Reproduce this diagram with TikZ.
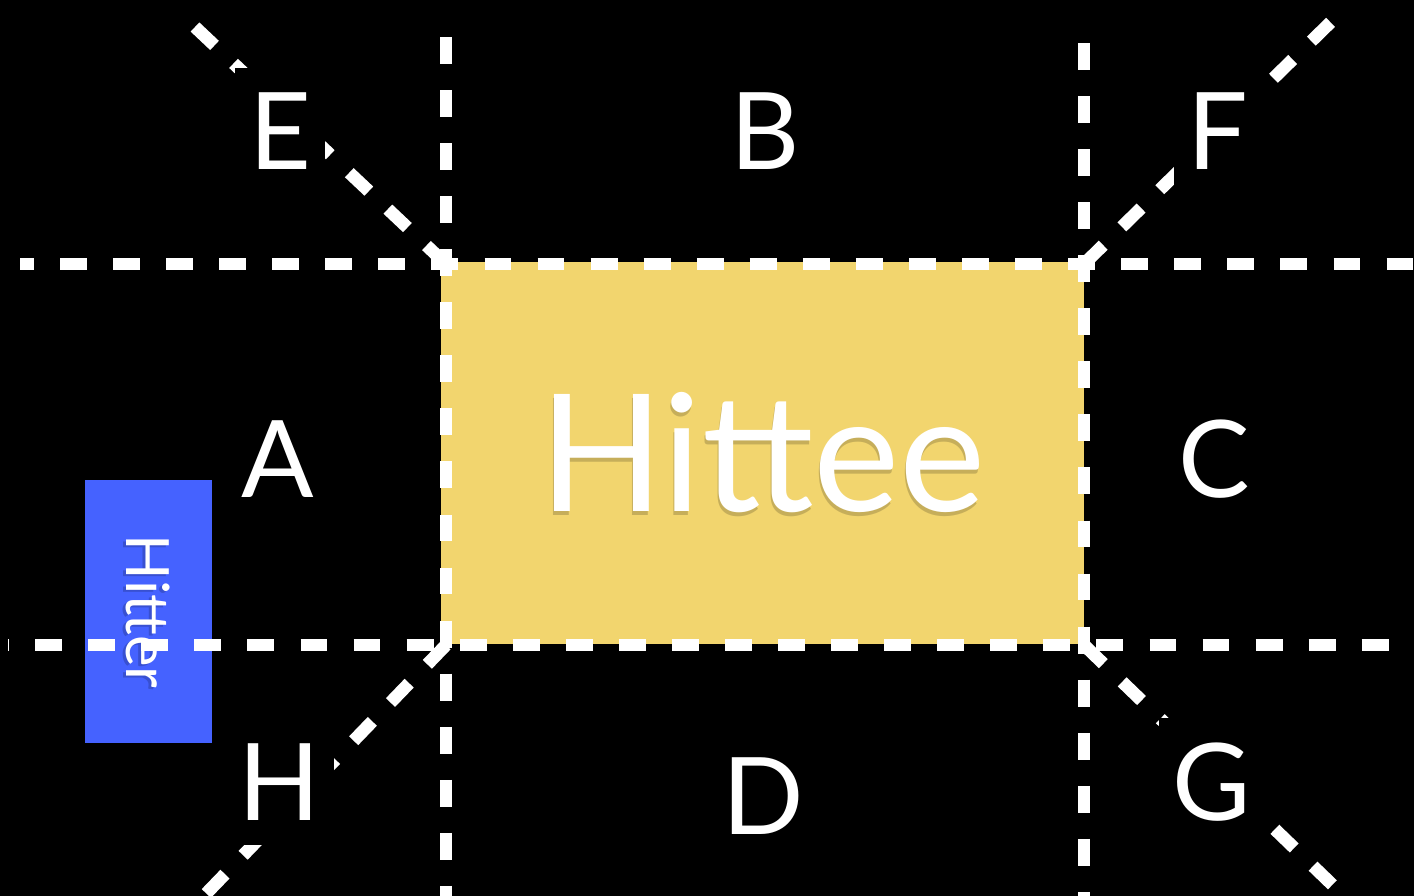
\documentclass[tikz,border=0pt]{standalone}
\usepackage{fontspec}
\setmainfont{Lato}
\definecolor{hitteeyellow}{RGB}{242,213,110}
\definecolor{hitterblue}{RGB}{69,98,255}

\begin{document}
\begin{tikzpicture}[x=0.02cm, y=-0.02cm,
    guide/.style={white, line width=7.2pt, dash pattern=on 15.3pt off 14.9pt},
    region/.style={fill=black, text=white, inner xsep=8pt, inner ysep=14pt,
      font=\fontsize{61}{61}\selectfont},
    shade/.style={text=black, opacity=0.18}]
  \fill[black] (0,0) rectangle (1414,896);
  \useasboundingbox (0,0) rectangle (1414,896);
  % boxes
  \node[fill=hitteeyellow, inner sep=0pt, minimum width=12.86cm, minimum height=7.64cm] (hittee) at (762.5,453) {};
  \node[fill=hitterblue, inner sep=0pt, minimum width=2.54cm, minimum height=5.26cm] (hitter) at (148.5,611.5) {};
  \node[shade, rotate=-90, font=\fontsize{34}{34}\selectfont] at ([shift={(-3,2)}]hitter.center) {Hitter};
  \node[text=white, rotate=-90, font=\fontsize{34}{34}\selectfont] (hitterlabel) at (hitter.center) {Hitter};
  % corners and line ends
  \coordinate (nw) at (446,264);
  \coordinate (ne) at (1084,264);
  \coordinate (sw) at (446,645);
  \coordinate (se) at (1084,645);
  \coordinate (topleft) at (20,264);
  \coordinate (topright) at (1414,264);
  \coordinate (bottomleft) at (8,645);
  \coordinate (bottomright) at (1400,645);
  \coordinate (leftup) at (446,37);
  \coordinate (leftdown) at (446,900);
  \coordinate (rightup) at (1084,43);
  \coordinate (rightdown) at (1084,900);
  \coordinate (eend) at (195,27);
  \coordinate (fend) at (1337,16);
  \coordinate (gend) at (1345,897);
  \coordinate (hend) at (200,900);
  % dashed guides
  \draw[guide, dash phase=7.4pt] (topleft) -- (topright);
  \draw[guide, dash phase=14.7pt] (bottomleft) -- (bottomright);
  \draw[guide] (leftup) -- (leftdown);
  \draw[guide] (rightup) -- (rightdown);
  \draw[guide] (nw) -- (eend);
  \draw[guide] (ne) -- (fend);
  \draw[guide] (se) -- (gend);
  \draw[guide] (sw) -- (hend);
  % regions
  \node[region] (e) at (280,131) {E};
  \node[region] (b) at (765,131) {B};
  \node[region] (f) at (1218,131) {F};
  \node[region] (a) at (278,459) {A};
  \node[region] (c) at (1214,459) {C};
  \node[region] (h) at (279,782) {H};
  \node[region] (d) at (763,796) {D};
  \node[region] (g) at (1212,782) {G};
  \node[shade, font=\fontsize{93}{93}\selectfont] at ([shift={(-1,4)}]hittee.center) {Hittee};
  \node[text=white, font=\fontsize{93}{93}\selectfont] (hitteelabel) at (hittee.center) {Hittee};
\end{tikzpicture}
\end{document}
